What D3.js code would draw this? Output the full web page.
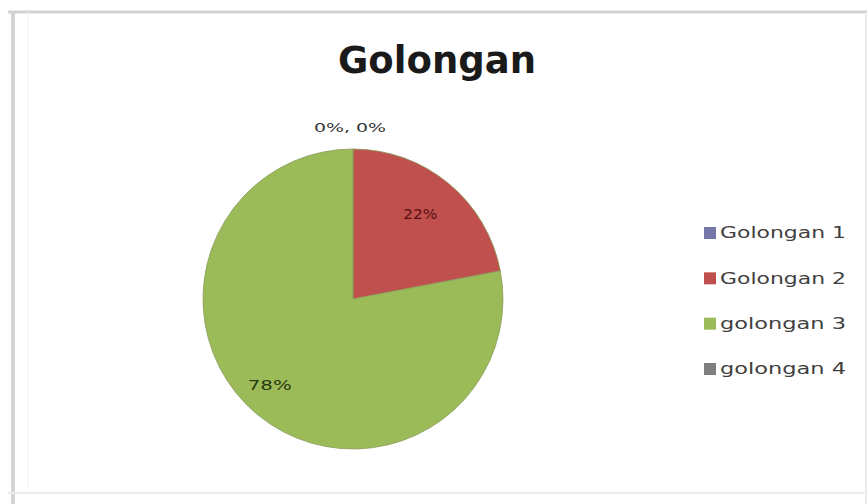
<!DOCTYPE html>
<html>
<head>
<meta charset="utf-8">
<script src="https://cdn.jsdelivr.net/npm/d3@7"></script>
<style>
  html, body { margin: 0; padding: 0; background: #fff; }
  svg { display: block; }
</style>
</head>
<body>
<svg id="chart" width="867" height="504"></svg>
<script>
// chart data
var categories = ['Golongan 1', 'Golongan 2', 'golongan 3', 'golongan 4'];
var values = [0, 22, 78, 0];
var colors = ['#7577a8', '#c0504d', '#9bbb59', '#7f7f7f'];
var chartTitle = 'Golongan';

var svg = d3.select('#chart');

// frame of the chart area
svg.append('rect').attr('x', 0).attr('y', 0).attr('width', 867).attr('height', 504).attr('fill', '#fff');
svg.append('line').attr('x1', 8).attr('x2', 867).attr('y1', 12).attr('y2', 12)
	.attr('stroke', '#d2d2d2').attr('stroke-width', 3);
svg.append('line').attr('x1', 13).attr('x2', 13).attr('y1', 12).attr('y2', 504)
	.attr('stroke', '#d4d4d4').attr('stroke-width', 4);
svg.append('line').attr('x1', 28).attr('x2', 28).attr('y1', 12).attr('y2', 490)
	.attr('stroke', '#f4f4f4').attr('stroke-width', 1);
svg.append('line').attr('x1', 8).attr('x2', 867).attr('y1', 493).attr('y2', 493)
	.attr('stroke', '#ececec').attr('stroke-width', 2);
svg.append('line').attr('x1', 866).attr('x2', 866).attr('y1', 12).attr('y2', 504)
	.attr('stroke', '#ececec').attr('stroke-width', 2);

// title
svg.append('text')
	.attr('x', 437).attr('y', 73)
	.attr('text-anchor', 'middle')
	.attr('font-family', 'DejaVu Sans, sans-serif')
	.attr('font-weight', 'bold')
	.attr('font-size', 37)
	.attr('textLength', 198)
	.attr('lengthAdjust', 'spacingAndGlyphs')
	.attr('fill', '#1a1a1a')
	.text(chartTitle);

/**
 * Pie
 */
var cx = 353, cy = 299, radius = 150;
var pie = d3.pie().sort(null).value(function(d) { return d; });
var arcs = pie(values);
var arc = d3.arc().innerRadius(0).outerRadius(radius);

var g = svg.append('g').attr('transform', 'translate(' + cx + ',' + cy + ')');

g.selectAll('path.slice')
	.data(arcs)
	.enter().append('path')
	.attr('class', 'slice')
	.attr('d', arc)
	.attr('fill', function(d, i) { return colors[i]; })
	.attr('stroke', function(d) { return d.value > 0 ? '#8a9a5a' : 'none'; })
	.attr('stroke-width', 0.8);

// data labels
var labelArc = d3.arc().innerRadius(radius * 0.62).outerRadius(radius * 0.62);
var pct = function(d) { return Math.round(d.value) + '%'; };

// the large slices
g.selectAll('text.lbl')
	.data(arcs.filter(function(d) { return d.value > 0; }))
	.enter().append('text')
	.attr('class', 'lbl')
	.attr('transform', function(d) {
		var c = labelArc.centroid(d);
		if (d.index === 2) c = [c[0] - 24, c[1] + 14];
		if (d.index === 1) c = [c[0] + 8, c[1] - 13];
		return 'translate(' + c[0] + ',' + c[1] + ')';
	})
	.attr('text-anchor', 'middle')
	.attr('dy', '0.35em')
	.attr('font-family', 'DejaVu Sans, sans-serif')
	.attr('font-size', 14)
	.attr('textLength', function(d) { return d.index === 2 ? 44 : 34; })
	.attr('lengthAdjust', 'spacingAndGlyphs')
	.attr('fill', function(d) { return d.index === 1 ? '#5a0f12' : '#2a3a10'; })
	.text(pct);

// zero slices sit at the top, written together
var zeros = arcs.filter(function(d) { return d.value === 0; });
g.append('text')
	.attr('x', -3).attr('y', -radius - 22)
	.attr('text-anchor', 'middle')
	.attr('dy', '0.35em')
	.attr('font-family', 'DejaVu Sans, sans-serif')
	.attr('font-size', 13)
	.attr('textLength', 72)
	.attr('lengthAdjust', 'spacingAndGlyphs')
	.attr('fill', '#333')
	.text(zeros.map(pct).join(', '));

/**
 * Legend
 */
var legendY = d3.scalePoint().domain(categories).range([233, 369]);
var legend = svg.append('g');
var items = legend.selectAll('g.item')
	.data(categories)
	.enter().append('g')
	.attr('class', 'item')
	.attr('transform', function(d) { return 'translate(704,' + legendY(d) + ')'; });

items.append('rect')
	.attr('x', 0).attr('y', -6).attr('width', 12).attr('height', 12)
	.attr('fill', function(d, i) { return colors[i]; });

items.append('text')
	.attr('x', 16).attr('dy', '0.35em')
	.attr('font-family', 'DejaVu Sans, sans-serif')
	.attr('font-size', 15)
	.attr('textLength', 126)
	.attr('lengthAdjust', 'spacingAndGlyphs')
	.attr('fill', '#404040')
	.text(function(d) { return d; });
</script>
</body>
</html>
